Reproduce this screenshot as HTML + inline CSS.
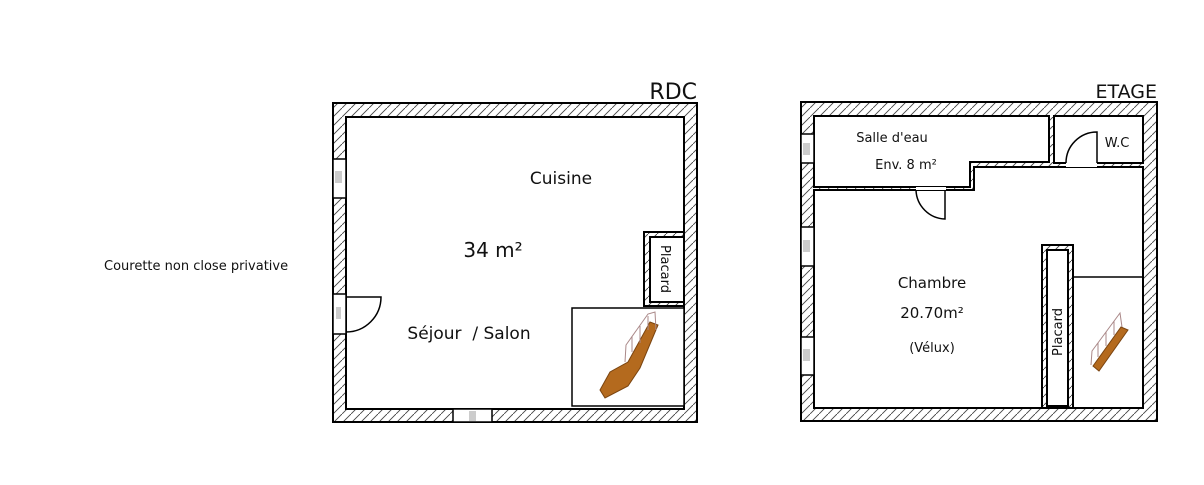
<!DOCTYPE html>
<html><head><meta charset="utf-8"><style>
html,body{margin:0;padding:0;background:#fff;width:1204px;height:485px;overflow:hidden}
svg{display:block}
text{font-family:"DejaVu Sans","Liberation Sans",sans-serif;fill:#111}
</style></head><body>
<svg width="1204" height="485" viewBox="0 0 1204 485" xmlns="http://www.w3.org/2000/svg">
<defs>
<pattern id="h" patternUnits="userSpaceOnUse" width="9" height="9">
<rect width="9" height="9" fill="#fff"/>
<path d="M-1,10 L10,-1" stroke="#444" stroke-width="0.9"/>
</pattern>
</defs>

<text x="104" y="270" font-size="13">Courette non close privative</text>

<!-- RDC -->
<text x="697" y="99" font-size="22" text-anchor="end">RDC</text>
<rect x="333" y="103" width="364" height="319" fill="url(#h)" stroke="#000" stroke-width="2"/>
<rect x="346" y="117" width="338" height="292" fill="#fff" stroke="#000" stroke-width="2"/>
<g stroke="#000" stroke-width="1.5" fill="#fff">
<rect x="333" y="159" width="13" height="39"/>
<rect x="333" y="294" width="13" height="40"/>
<rect x="453" y="409" width="39" height="13"/>
</g>
<g fill="#ccc"><rect x="335" y="171" width="7" height="12"/><rect x="336" y="307" width="5" height="12"/><rect x="469" y="411" width="7" height="10"/></g>
<path d="M346,297 L381,297 A35,35 0 0 1 346,332" fill="none" stroke="#000" stroke-width="1.5"/>
<rect x="644" y="232" width="40" height="74" fill="url(#h)" stroke="#000" stroke-width="2"/>
<rect x="650" y="237" width="34" height="65" fill="#fff" stroke="#000" stroke-width="2"/>
<text transform="translate(661,269) rotate(90)" font-size="13" text-anchor="middle">Placard</text>
<rect x="572" y="308" width="112" height="98" fill="#fff" stroke="#000" stroke-width="1.5"/>
<path d="M600,390 L610,372 L628,362 L650,322 L658,325 L640,368 L628,386 L605,398 Z" fill="#b46a1e" stroke="#7a4410" stroke-width="1"/>
<path d="M625,362 L626,345 L648,314 L655,312 L656,330 M632,352 L632,336 M640,343 L640,326 M648,330 L648,316" fill="none" stroke="#a88" stroke-width="1"/>
<text x="561" y="184" font-size="17" text-anchor="middle">Cuisine</text>
<text x="493" y="257" font-size="20" text-anchor="middle">34 m²</text>
<text x="469" y="339" font-size="17" text-anchor="middle">Séjour&#160; / Salon</text>

<!-- ETAGE -->
<text x="1157" y="98" font-size="19" text-anchor="end">ETAGE</text>
<rect x="801" y="102" width="356" height="319" fill="url(#h)" stroke="#000" stroke-width="2"/>
<path d="M814,116 L1049,116 L1049,162 L970,162 L970,187 L814,187 Z" fill="#fff" stroke="#000" stroke-width="2"/>
<rect x="1054" y="116" width="89" height="47" fill="#fff" stroke="#000" stroke-width="2"/>
<path d="M814,190 L974,190 L974,167 L1143,167 L1143,408 L814,408 Z" fill="#fff" stroke="#000" stroke-width="2"/>
<rect x="1042" y="245" width="31" height="163" fill="url(#h)" stroke="#000" stroke-width="2"/>
<rect x="1047" y="250" width="21" height="156" fill="#fff" stroke="#000" stroke-width="2"/>
<line x1="1073" y1="277" x2="1143" y2="277" stroke="#000" stroke-width="1.5"/>
<text transform="translate(1062,332) rotate(-90)" font-size="13" text-anchor="middle">Placard</text>
<path d="M1093,366 L1121,327 L1128,330 L1099,371 Z" fill="#b46a1e" stroke="#7a4410" stroke-width="1"/>
<path d="M1091,365 L1092,351 L1120,313 L1122,327 M1098,357 L1098,343 M1106,346 L1106,332 M1114,335 L1114,321" fill="none" stroke="#a88" stroke-width="1"/>
<g stroke="#000" stroke-width="1.5" fill="#fff">
<rect x="801" y="134" width="13" height="29"/>
<rect x="801" y="227" width="13" height="39"/>
<rect x="801" y="337" width="13" height="38"/>
</g>
<g fill="#ccc"><rect x="803" y="143" width="7" height="12"/><rect x="803" y="240" width="7" height="12"/><rect x="803" y="349" width="7" height="12"/></g>
<rect x="916" y="187" width="30" height="3" fill="#fff"/>
<path d="M916,190 A30,30 0 0 0 945,219 L945,190" fill="none" stroke="#000" stroke-width="1.5"/>
<rect x="1066" y="162" width="31" height="5" fill="#fff"/>
<path d="M1066,163 A31,31 0 0 1 1097,132 L1097,163" fill="none" stroke="#000" stroke-width="1.5"/>
<text x="892" y="142" font-size="13" text-anchor="middle">Salle d'eau</text>
<text x="906" y="169" font-size="13" text-anchor="middle">Env. 8 m²</text>
<text x="1117" y="147" font-size="13" text-anchor="middle">W.C</text>
<text x="932" y="288" font-size="15" text-anchor="middle">Chambre</text>
<text x="932" y="318" font-size="15" text-anchor="middle">20.70m²</text>
<text x="932" y="352" font-size="13" text-anchor="middle">(Vélux)</text>
</svg>
</body></html>
